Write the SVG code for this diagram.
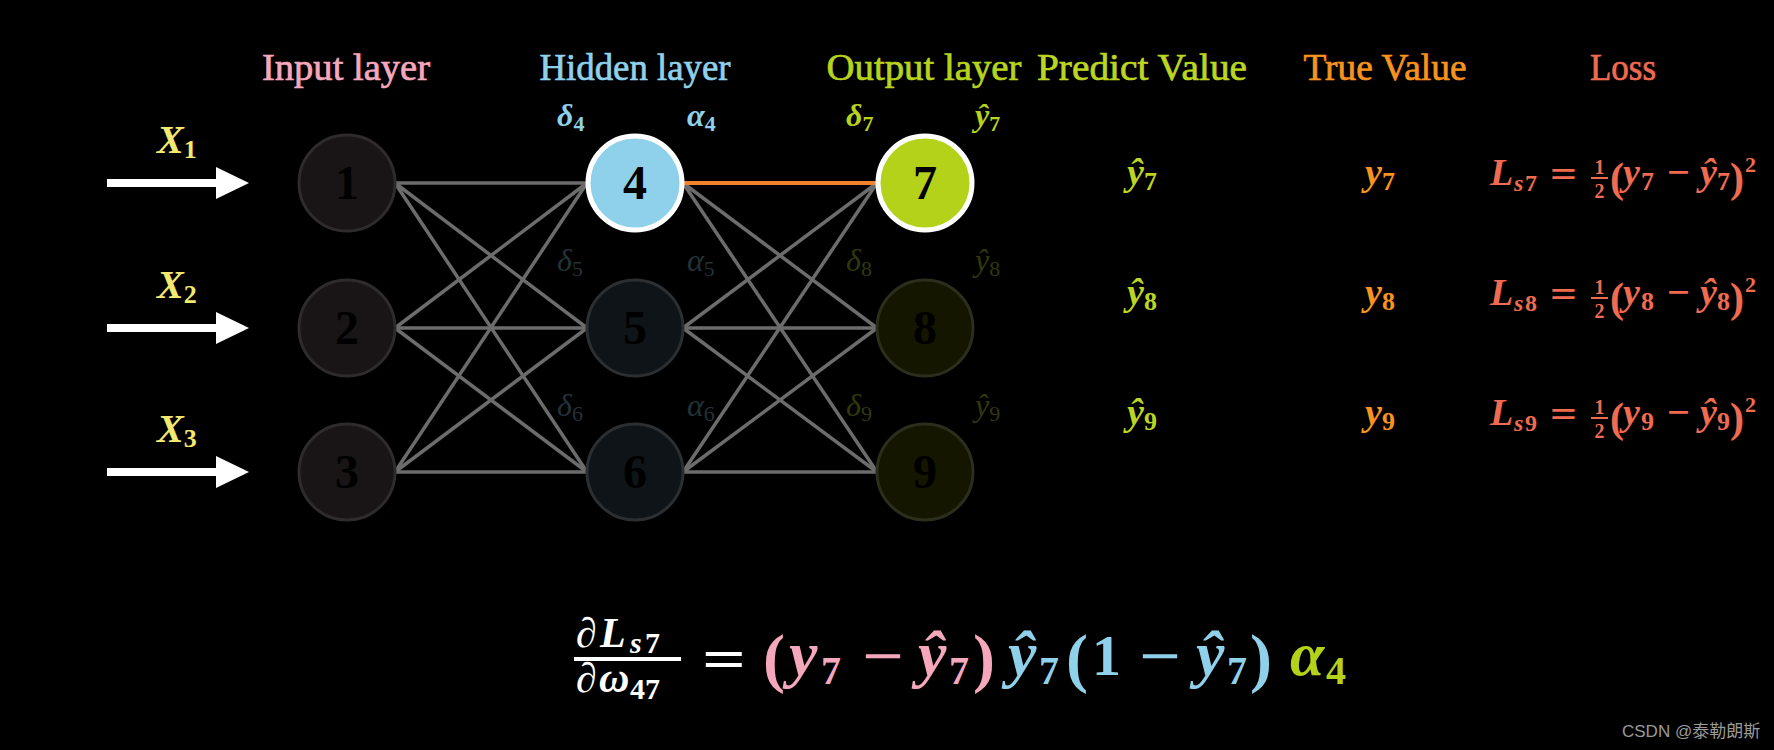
<svg xmlns="http://www.w3.org/2000/svg" width="1774" height="750" viewBox="0 0 1774 750">
<defs>
<marker id="ah" markerUnits="userSpaceOnUse" markerWidth="34" markerHeight="34" viewBox="0 0 34 34" refX="1" refY="17" orient="auto"><path d="M0,1 L33,17 L0,33 Z" fill="#ffffff"/></marker>
</defs>
<style>
.hdr{font-family:"Liberation Serif",serif;font-size:37px;text-anchor:middle;stroke-width:0.7}
.num{font-family:"Liberation Serif",serif;font-weight:bold;font-size:48px;text-anchor:middle;fill:#000}
.m{font-family:"Liberation Serif",serif;font-style:italic}
.r{font-family:"Liberation Serif",serif;font-style:normal}
.b{font-weight:bold}
.w{stroke:#6c6c6c;stroke-width:3.5}
.o{stroke:#f0832c;stroke-width:4}
.arr{stroke:#ffffff;stroke-width:8;marker-end:url(#ah)}
.nin{fill:#191415;stroke:#2f2b2c;stroke-width:3}
.nhid{fill:#0e1418;stroke:#2b2f31;stroke-width:3}
.nout{fill:#141600;stroke:#2c2e1c;stroke-width:3}
.lb{font-size:32px}
.ls{font-size:22px}
.dh{fill:#223238}
.do{fill:#31380b}
.loss{fill:#f06b50}
.pred{fill:#bcd521}
.tru{fill:#f7931e}
</style>
<rect width="1774" height="750" fill="#000000"/>

<g id="headers">
<text class="hdr" x="346" y="80" fill="#f5a8bc" stroke="#f5a8bc" textLength="168" lengthAdjust="spacingAndGlyphs">Input layer</text>
<text class="hdr" x="635" y="80" fill="#8fd1ea" stroke="#8fd1ea" textLength="191" lengthAdjust="spacingAndGlyphs">Hidden layer</text>
<text class="hdr" x="924" y="80" fill="#b7d31c" stroke="#b7d31c" textLength="195" lengthAdjust="spacingAndGlyphs">Output layer</text>
<text class="hdr" x="1142" y="80" fill="#bcd521" stroke="#bcd521" textLength="210" lengthAdjust="spacingAndGlyphs">Predict Value</text>
<text class="hdr" x="1385" y="80" fill="#f7931e" stroke="#f7931e" textLength="163" lengthAdjust="spacingAndGlyphs">True Value</text>
<text class="hdr" x="1623" y="80" fill="#f06a50" stroke="#f06a50" textLength="66" lengthAdjust="spacingAndGlyphs">Loss</text>
</g>

<g id="connectors">
<line class="arr" x1="107" y1="183" x2="217" y2="183"/>
<line class="arr" x1="107" y1="328" x2="217" y2="328"/>
<line class="arr" x1="107" y1="472" x2="217" y2="472"/>
<line class="w" x1="395" y1="183" x2="587" y2="183"/>
<line class="w" x1="395" y1="183" x2="587" y2="328"/>
<line class="w" x1="395" y1="183" x2="587" y2="472"/>
<line class="w" x1="395" y1="328" x2="587" y2="183"/>
<line class="w" x1="395" y1="328" x2="587" y2="328"/>
<line class="w" x1="395" y1="328" x2="587" y2="472"/>
<line class="w" x1="395" y1="472" x2="587" y2="183"/>
<line class="w" x1="395" y1="472" x2="587" y2="328"/>
<line class="w" x1="395" y1="472" x2="587" y2="472"/>
<line class="w" x1="683" y1="183" x2="877" y2="328"/>
<line class="w" x1="683" y1="183" x2="877" y2="472"/>
<line class="w" x1="683" y1="328" x2="877" y2="183"/>
<line class="w" x1="683" y1="328" x2="877" y2="328"/>
<line class="w" x1="683" y1="328" x2="877" y2="472"/>
<line class="w" x1="683" y1="472" x2="877" y2="183"/>
<line class="w" x1="683" y1="472" x2="877" y2="328"/>
<line class="w" x1="683" y1="472" x2="877" y2="472"/>
<line class="o" x1="683" y1="183" x2="877" y2="183"/>
</g>

<g id="input-labels" class="m b" fill="#f3e870">
<text x="157" y="153" font-size="40">X<tspan font-style="normal" font-size="26" dy="5">1</tspan></text>
<text x="157" y="298" font-size="40">X<tspan font-style="normal" font-size="26" dy="5">2</tspan></text>
<text x="157" y="442" font-size="40">X<tspan font-style="normal" font-size="26" dy="5">3</tspan></text>
</g>

<g id="node1"><circle class="nin" cx="347" cy="183" r="48"/><text class="num" x="347" y="199">1</text></g>
<g id="node2"><circle class="nin" cx="347" cy="328" r="48"/><text class="num" x="347" y="344">2</text></g>
<g id="node3"><circle class="nin" cx="347" cy="472" r="48"/><text class="num" x="347" y="488">3</text></g>
<g id="node4"><circle cx="635" cy="183" r="47" fill="#8fd1ea" stroke="#ffffff" stroke-width="5"/><text class="num" x="635" y="199">4</text></g>
<g id="node5"><circle class="nhid" cx="635" cy="328" r="48"/><text class="num" x="635" y="344">5</text></g>
<g id="node6"><circle class="nhid" cx="635" cy="472" r="48"/><text class="num" x="635" y="488">6</text></g>
<g id="node7"><circle cx="925" cy="183" r="47" fill="#b5d21a" stroke="#ffffff" stroke-width="5"/><text class="num" x="925" y="199">7</text></g>
<g id="node8"><circle class="nout" cx="925" cy="328" r="48"/><text class="num" x="925" y="344">8</text></g>
<g id="node9"><circle class="nout" cx="925" cy="472" r="48"/><text class="num" x="925" y="488">9</text></g>

<g id="node-labels" class="m">
<text class="lb b" x="557" y="126" fill="#8fd1ea">δ<tspan class="ls" font-style="normal" dy="5">4</tspan></text>
<text class="lb b" x="687" y="126" fill="#8fd1ea">α<tspan class="ls" font-style="normal" dy="5">4</tspan></text>
<text class="lb b" x="846" y="126" fill="#b7d31c">δ<tspan class="ls" font-style="normal" dy="5">7</tspan></text>
<text class="lb b" x="975" y="126" fill="#b7d31c">ŷ<tspan class="ls" font-style="normal" dy="5">7</tspan></text>
<text class="lb dh" x="557" y="271">δ<tspan class="ls" font-style="normal" dy="5">5</tspan></text>
<text class="lb dh" x="687" y="271">α<tspan class="ls" font-style="normal" dy="5">5</tspan></text>
<text class="lb do" x="846" y="271">δ<tspan class="ls" font-style="normal" dy="5">8</tspan></text>
<text class="lb do" x="975" y="271">ŷ<tspan class="ls" font-style="normal" dy="5">8</tspan></text>
<text class="lb dh" x="557" y="416">δ<tspan class="ls" font-style="normal" dy="5">6</tspan></text>
<text class="lb dh" x="687" y="416">α<tspan class="ls" font-style="normal" dy="5">6</tspan></text>
<text class="lb do" x="846" y="416">δ<tspan class="ls" font-style="normal" dy="5">9</tspan></text>
<text class="lb do" x="975" y="416">ŷ<tspan class="ls" font-style="normal" dy="5">9</tspan></text>
</g>

<g id="predict-values" class="m b pred">
<text x="1127" y="185" font-size="38">ŷ<tspan font-style="normal" font-size="26" dy="5">7</tspan></text>
<text x="1127" y="305" font-size="38">ŷ<tspan font-style="normal" font-size="26" dy="5">8</tspan></text>
<text x="1127" y="425" font-size="38">ŷ<tspan font-style="normal" font-size="26" dy="5">9</tspan></text>
</g>

<g id="true-values" class="m b tru">
<text x="1365" y="185" font-size="38">y<tspan font-style="normal" font-size="26" dy="5">7</tspan></text>
<text x="1365" y="305" font-size="38">y<tspan font-style="normal" font-size="26" dy="5">8</tspan></text>
<text x="1365" y="425" font-size="38">y<tspan font-style="normal" font-size="26" dy="5">9</tspan></text>
</g>

<g id="loss-7" class="b loss">
<text class="m" x="1490" y="185" font-size="38">L</text>
<text class="m" x="1514" y="191" font-size="24">s</text>
<text class="r" x="1525" y="191" font-size="24">7</text>
<text class="r" x="1550" y="187" font-size="38" textLength="27" lengthAdjust="spacingAndGlyphs">=</text>
<text class="r" x="1599.5" y="174" font-size="20" text-anchor="middle">1</text>
<rect x="1591" y="177" width="17" height="2"/>
<text class="r" x="1599.5" y="198" font-size="20" text-anchor="middle">2</text>
<text class="r" x="1610" y="192" font-size="42">(</text>
<text class="m" x="1623" y="185" font-size="38">y</text>
<text class="r" x="1641" y="190" font-size="26">7</text>
<text class="r" x="1667" y="185" font-size="38" textLength="23" lengthAdjust="spacingAndGlyphs">−</text>
<text class="m" x="1700" y="185" font-size="38">ŷ</text>
<text class="r" x="1717" y="190" font-size="26">7</text>
<text class="r" x="1730" y="192" font-size="42">)</text>
<text class="r" x="1745" y="172" font-size="22">2</text>
</g>
<g id="loss-8" class="b loss">
<text class="m" x="1490" y="305" font-size="38">L</text>
<text class="m" x="1514" y="311" font-size="24">s</text>
<text class="r" x="1525" y="311" font-size="24">8</text>
<text class="r" x="1550" y="307" font-size="38" textLength="27" lengthAdjust="spacingAndGlyphs">=</text>
<text class="r" x="1599.5" y="294" font-size="20" text-anchor="middle">1</text>
<rect x="1591" y="297" width="17" height="2"/>
<text class="r" x="1599.5" y="318" font-size="20" text-anchor="middle">2</text>
<text class="r" x="1610" y="312" font-size="42">(</text>
<text class="m" x="1623" y="305" font-size="38">y</text>
<text class="r" x="1641" y="310" font-size="26">8</text>
<text class="r" x="1667" y="305" font-size="38" textLength="23" lengthAdjust="spacingAndGlyphs">−</text>
<text class="m" x="1700" y="305" font-size="38">ŷ</text>
<text class="r" x="1717" y="310" font-size="26">8</text>
<text class="r" x="1730" y="312" font-size="42">)</text>
<text class="r" x="1745" y="292" font-size="22">2</text>
</g>
<g id="loss-9" class="b loss">
<text class="m" x="1490" y="425" font-size="38">L</text>
<text class="m" x="1514" y="431" font-size="24">s</text>
<text class="r" x="1525" y="431" font-size="24">9</text>
<text class="r" x="1550" y="427" font-size="38" textLength="27" lengthAdjust="spacingAndGlyphs">=</text>
<text class="r" x="1599.5" y="414" font-size="20" text-anchor="middle">1</text>
<rect x="1591" y="417" width="17" height="2"/>
<text class="r" x="1599.5" y="438" font-size="20" text-anchor="middle">2</text>
<text class="r" x="1610" y="432" font-size="42">(</text>
<text class="m" x="1623" y="425" font-size="38">y</text>
<text class="r" x="1641" y="430" font-size="26">9</text>
<text class="r" x="1667" y="425" font-size="38" textLength="23" lengthAdjust="spacingAndGlyphs">−</text>
<text class="m" x="1700" y="425" font-size="38">ŷ</text>
<text class="r" x="1717" y="430" font-size="26">9</text>
<text class="r" x="1730" y="432" font-size="42">)</text>
<text class="r" x="1745" y="412" font-size="22">2</text>
</g>

<g id="gradient-formula" class="b">
<g fill="#ffffff">
<text class="m" x="576" y="647" font-size="42">∂</text>
<text class="m" x="600" y="647" font-size="42">L</text>
<text class="m" x="630" y="653" font-size="30">s</text>
<text class="r" x="645" y="653" font-size="30">7</text>
<rect x="574" y="657" width="107" height="4"/>
<text class="m" x="576" y="692" font-size="42">∂</text>
<text class="m" x="599" y="692" font-size="42">ω</text>
<text class="r" x="630" y="699" font-size="30">47</text>
<text class="r" x="724" y="678" font-size="56" text-anchor="middle" textLength="44" lengthAdjust="spacingAndGlyphs">=</text>
</g>
<g fill="#f5a8bc">
<text class="r" x="763" y="680" font-size="66">(</text>
<text class="m" x="789" y="675" font-size="64">y</text>
<text class="r" x="821" y="684" font-size="40">7</text>
<text class="r" x="862" y="675" font-size="56" textLength="42" lengthAdjust="spacingAndGlyphs">−</text>
<text class="m" x="918" y="675" font-size="64">ŷ</text>
<text class="r" x="949" y="684" font-size="40">7</text>
<text class="r" x="973" y="680" font-size="66">)</text>
</g>
<g fill="#8fd1ea">
<text class="m" x="1008" y="675" font-size="64">ŷ</text>
<text class="r" x="1039" y="684" font-size="40">7</text>
<text class="r" x="1066" y="680" font-size="66">(</text>
<text class="r" x="1092" y="675" font-size="58">1</text>
<text class="r" x="1139" y="675" font-size="56" textLength="42" lengthAdjust="spacingAndGlyphs">−</text>
<text class="m" x="1196" y="675" font-size="64">ŷ</text>
<text class="r" x="1227" y="684" font-size="40">7</text>
<text class="r" x="1250" y="680" font-size="66">)</text>
</g>
<g fill="#b5d21a">
<text class="m" x="1290" y="675" font-size="62">α</text>
<text class="r" x="1326" y="684" font-size="40">4</text>
</g>
</g>

<text x="1622" y="737" font-family="Liberation Sans, 'Noto Sans CJK SC', sans-serif" font-size="17" fill="#9a9a9a">CSDN @泰勒朗斯</text>
</svg>
